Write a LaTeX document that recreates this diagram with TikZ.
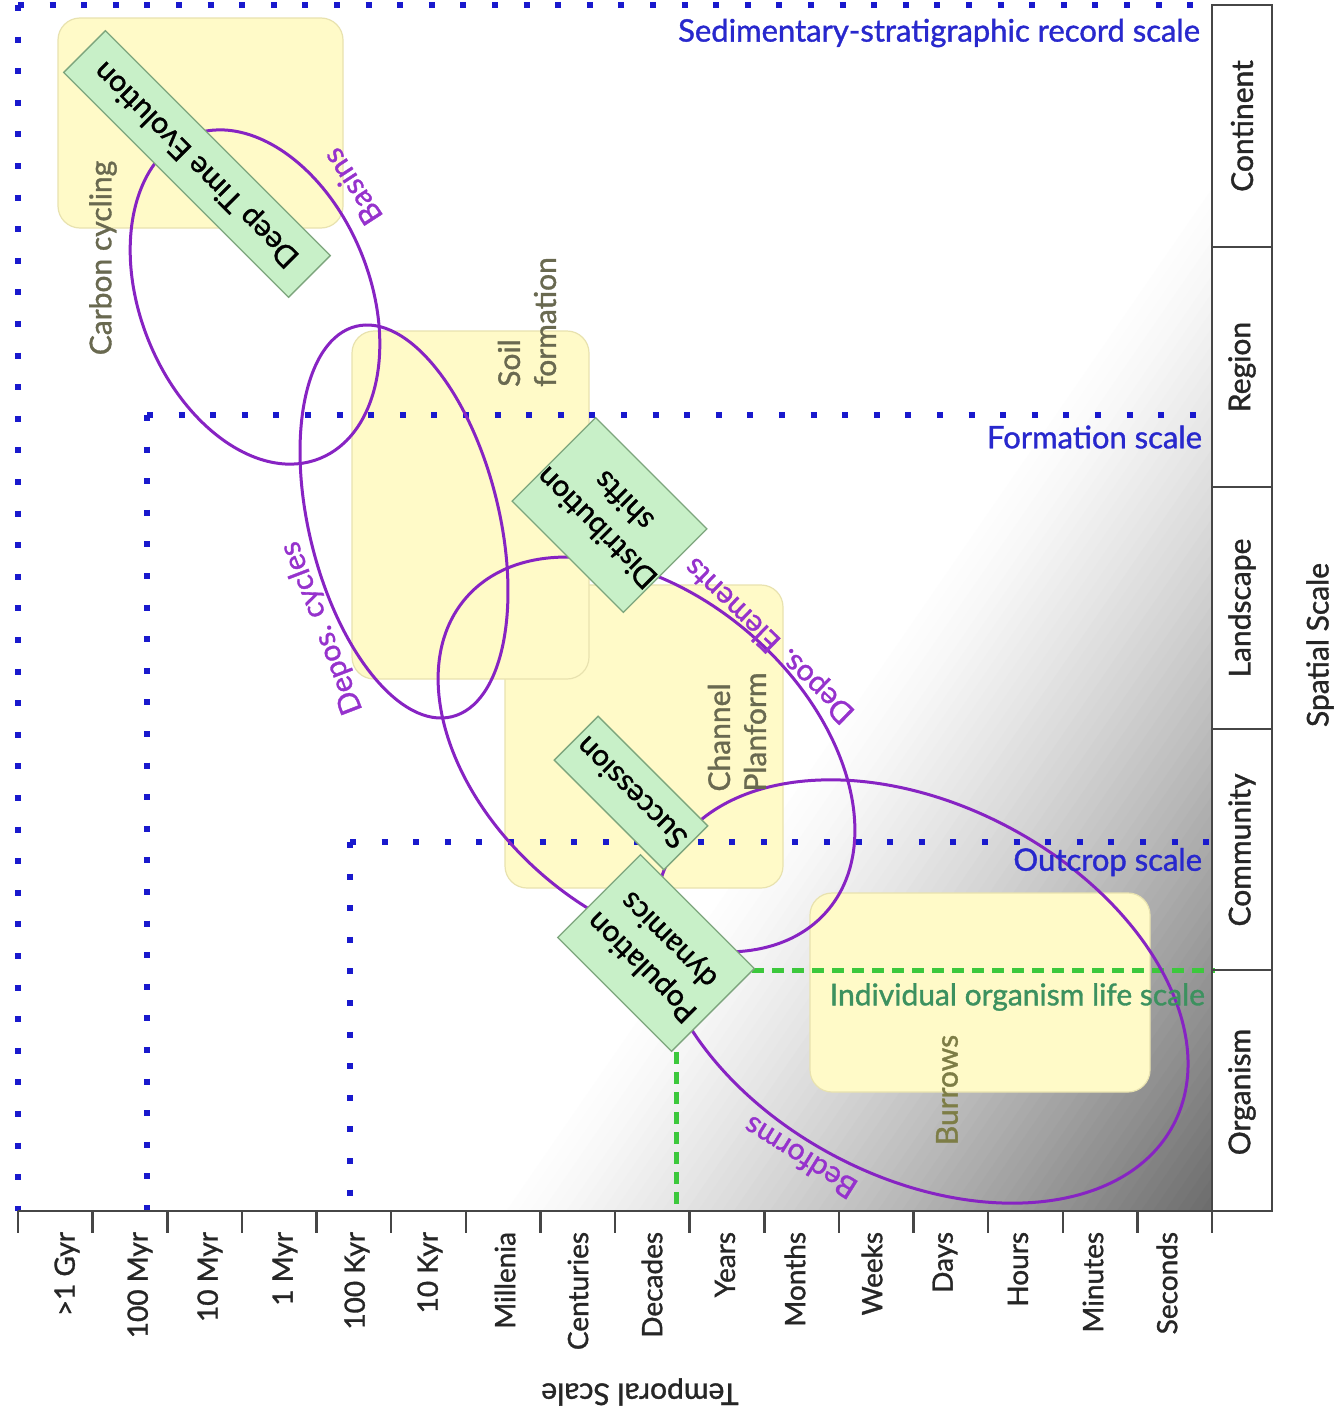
\documentclass[tikz,border=0pt]{standalone}
\usepackage{fontspec}
\setmainfont{Lato}[FakeBold=1.2]
\definecolor{dotblue}{RGB}{25,25,205}
\definecolor{txtblue}{RGB}{40,40,205}
\definecolor{ellpurple}{RGB}{135,35,195}
\definecolor{lblpurple}{RGB}{150,50,205}
\definecolor{dashgreen}{RGB}{60,200,60}
\definecolor{txtgreen}{RGB}{60,145,95}
\definecolor{ybg}{RGB}{255,250,200}
\definecolor{yborder}{RGB}{232,226,175}
\definecolor{gbg}{RGB}{200,240,200}
\definecolor{gborder}{RGB}{125,165,125}
\definecolor{olive}{RGB}{105,105,80}
\definecolor{burrowtxt}{RGB}{125,125,70}
\definecolor{axisgray}{RGB}{70,70,70}
\begin{document}
\begin{tikzpicture}[x=1pt,y=-1pt,
  every node/.style={inner sep=0pt,outer sep=0pt},
  lbl/.style={font=\fontsize{30}{36}\selectfont},
  ticklbl/.style={font=\fontsize{28}{32}\selectfont,rotate=90,anchor=east,text=black!85},
  celllbl/.style={font=\fontsize{30}{36}\selectfont,rotate=90,text=black!85},
  scalelbl/.style={font=\fontsize{31}{36}\selectfont,text=txtblue,anchor=east},
  ytext/.style={font=\fontsize{30}{36}\selectfont,text=olive,rotate=90,align=left},
  ybox/.style={fill=ybg,draw=yborder,line width=1.2pt,rounded corners=22pt},
  gbox/.style={fill=gbg,draw=gborder,line width=1.3pt,rotate=135,align=center,
     font=\fontsize{30}{38}\selectfont},
  ell/.style={draw=ellpurple,line width=3pt},
  elbl/.style={font=\fontsize{30}{36}\selectfont,text=lblpurple},
  bluedots/.style={draw=dotblue,line width=6pt,dash pattern=on 6pt off 25.6pt},
  greendash/.style={draw=dashgreen,line width=5pt,dash pattern=on 12pt off 8pt},
  axisline/.style={draw=axisgray,line width=2.5pt}
]
\useasboundingbox (0,0) rectangle (1338,1416);
\fill[white] (0,0) rectangle (1338,1416);

% gradient
\begin{scope}
\clip (18,5) rectangle (1212,1211);
\foreach \i in {0,...,59}{
  \pgfmathsetmacro\ta{1095+\i*9.85}
  \pgfmathsetmacro\tb{\ta+10.5}
  \pgfmathsetmacro\pct{58*((\i+0.5)/60)^1.25}
  \fill[black!\pct] ({\ta*0.823+909},{\ta*0.568-1317}) -- ({\ta*0.823-909},{\ta*0.568+1317})
     -- ({\tb*0.823-909},{\tb*0.568+1317}) -- ({\tb*0.823+909},{\tb*0.568-1317}) -- cycle;
}
\fill[black!58] ({1685*0.823+909},{1685*0.568-1317}) -- ({1685*0.823-909},{1685*0.568+1317})
     -- ({2300*0.823-909},{2300*0.568+1317}) -- ({2300*0.823+909},{2300*0.568-1317}) -- cycle;
\end{scope}

% yellow boxes
\draw[ybox] (58,18) rectangle (343,228);
\draw[ybox] (505,585) rectangle (783,888);
\draw[ybox] (352,331) rectangle (589,679);
\draw[ybox] (810,893) rectangle (1150,1092);

% blue dotted scale lines
\draw[bluedots] (18,5) -- (1212,5);
\draw[bluedots] (18,5) -- (18,1211);
\draw[bluedots] (147,415) -- (1212,415);
\draw[bluedots] (147,415) -- (147,1211);
\draw[bluedots] (350,842) -- (1212,842);
\draw[bluedots] (350,842) -- (350,1211);

% green dashed
\draw[greendash] (752,970) -- (1215,970);
\draw[greendash] (676,1052) -- (676,1211);

% ellipses
\draw[ell,rotate around={-68.2:(255,297)}] (255,297) ellipse [x radius=174pt,y radius=115pt];
\draw[ell,rotate around={-76.2:(404,521.5)}] (404,521.5) ellipse [x radius=201pt,y radius=95pt];
\draw[ell,rotate around={-41:(646.5,754.5)}] (646.5,754.5) ellipse [x radius=239pt,y radius=159pt];
\draw[ell,rotate around={-27.9:(921.5,991.5)}] (921.5,991.5) ellipse [x radius=285pt,y radius=186pt];

% green boxes
\node[gbox,minimum width=318pt,minimum height=59pt] (deeptime) at (197,164) {Deep Time Evolution};
\node[gbox,minimum width=156pt,minimum height=118pt] (distshift) at (609.5,515) {Distribution\\shifts};
\node[gbox,minimum width=155pt,minimum height=62pt] (succession) at (631,793) {Succession};
\node[gbox,minimum width=161pt,minimum height=117pt] (popdyn) at (656,953) {Population\\dynamics};

% yellow box texts
\node[ytext] (carbon) at (103,258) {Carbon cycling};
\node[ytext] (soil) at (527,322) {Soil\\formation};
\node[ytext] (channel) at (737,732) {Channel\\Planform};
\node[ytext,text=burrowtxt] (burrows) at (947,1090) {Burrows};

% ellipse labels
\node[elbl,rotate=123] (basins) at (352,187) {Basins};
\node[elbl,rotate=111] (deposcyc) at (322,628) {Depos. cycles};
\node[elbl,rotate=136] (deposel) at (770,640) {Depos. Elements};
\node[elbl,rotate=148] (bedforms) at (800,1158) {Bedforms};

% scale labels
\node[scalelbl] (sedscale) at (1200,33) {Sedimentary-stratigraphic record scale};
\node[scalelbl] (formscale) at (1202,437) {Formation scale};
\node[scalelbl] (outscale) at (1202,862) {Outcrop scale};
\node[lbl,text=txtgreen,anchor=east] (indscale) at (1205,997) {Individual organism life scale};

% axes
\draw[axisline] (18,1211) -- (1212,1211);
\foreach \i in {0,...,16}{
  \draw[axisline] ({18+74.625*\i},1211) -- ({18+74.625*\i},1233);
}
\draw[axisline] (1212,5) rectangle (1272,1211);
\foreach \yy in {247,487,729,970}{
  \draw[axisline] (1212,\yy) -- (1272,\yy);
}
\foreach \xx/\tt [count=\k] in {67/{>1 Gyr},140/{100 Myr},210/{10 Myr},285/{1 Myr},357/{100 Kyr},430/{10 Kyr},505/Millenia,578/Centuries,652/Decades,725/Years,795/Months,872/Weeks,945/Days,1018/Hours,1093/Minutes,1167/Seconds}{
  \node[ticklbl] (tick\k) at (\xx,1232) {\tt};
}
\foreach \yy/\tt [count=\k] in {126/Continent,367/Region,608/Landscape,850/Community,1092/Organism}{
  \node[celllbl] (cell\k) at (1242,\yy) {\tt};
}
\node[celllbl] (spatial) at (1320,645) {Spatial Scale};
\node[lbl,rotate=180,text=black!85] (temporal) at (640,1392) {Temporal Scale};
\end{tikzpicture}
\end{document}
